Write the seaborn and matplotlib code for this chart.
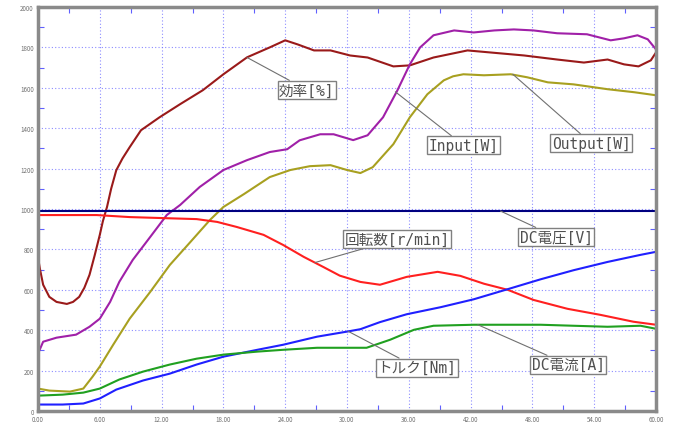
import numpy as np
import pandas as pd
import matplotlib
matplotlib.use('Agg')
import matplotlib.pyplot as plt
import seaborn as sns
from matplotlib.ticker import MultipleLocator

# 読み取った値 (x: 時間, y: 各測定値)
eff_x = [0, 0.2, 0.5, 1.1, 1.8, 2.8, 3.4, 4.0, 4.5, 5.0, 5.5, 6.0, 6.3, 6.7, 7.1, 7.6, 8.2, 8.9, 10.0,
         11.8, 13.8, 16.0, 18.0, 20.3, 22.5, 24.0, 25.2, 26.8, 28.4, 30.3, 32.0, 34.5, 36.1, 38.4,
         41.7, 43.9, 47.2, 50.4, 53.0, 55.3, 56.9, 58.3, 59.5, 60.0]
eff_y = [760, 700, 625, 565, 540, 530, 540, 565, 610, 674, 770, 872, 940, 1010, 1100, 1192, 1250, 1306, 1390,
         1454, 1519, 1588, 1667, 1751, 1800, 1835, 1815, 1785, 1785, 1760, 1750, 1706, 1711, 1750,
         1785, 1775, 1760, 1740, 1725, 1740, 1716, 1706, 1736, 1775]

in_x = [0, 0.5, 1.8, 3.7, 5.0, 6.0, 7.0, 7.9, 9.2, 10.9, 12.5, 13.8, 15.7, 18.0, 20.3, 22.5, 24.2,
        25.4, 27.4, 28.7, 30.6, 32.0, 33.5, 34.9, 36.1, 37.1, 38.4, 40.4, 42.3, 44.3, 46.2, 48.1,
        50.4, 53.3, 55.6, 56.9, 58.2, 59.2, 60.0]
in_y = [284, 343, 363, 378, 417, 457, 540, 640, 748, 862, 970, 1020, 1109, 1193, 1242, 1282, 1296,
        1340, 1370, 1370, 1341, 1365, 1454, 1588, 1716, 1800, 1860, 1884, 1874, 1884, 1889, 1884,
        1870, 1865, 1835, 1845, 1860, 1840, 1790]

out_x = [0, 1.1, 3.1, 4.4, 5.3, 6.0, 7.3, 8.9, 10.9, 12.8, 14.8, 16.7, 18.0, 20.0, 22.5, 24.5,
         26.4, 28.4, 30.0, 31.3, 32.5, 34.5, 36.1, 37.8, 39.4, 40.3, 41.3, 43.3, 45.9, 47.5, 49.5,
         52.0, 55.3, 57.9, 60.0]
out_y = [111, 101, 96, 111, 170, 220, 328, 457, 590, 723, 837, 946, 1010, 1074, 1158, 1193,
         1212, 1217, 1193, 1178, 1207, 1321, 1454, 1568, 1637, 1657, 1667, 1662, 1667, 1652, 1627,
         1617, 1593, 1578, 1563]

rpm_x = [0, 5.7, 8.9, 12.1, 15.4, 17.4, 19.3, 21.9, 23.8, 25.8, 27.7, 29.3, 31.3, 33.2, 35.8, 38.8,
         41.0, 43.3, 45.6, 48.1, 51.4, 54.6, 57.8, 60.0]
rpm_y = [970, 970, 960, 955, 950, 936, 911, 872, 822, 763, 713, 670, 639, 625, 664, 689,
         669, 630, 600, 550, 506, 476, 442, 427]

volt_x = [0, 60]
volt_y = [990, 990]

trq_x = [0, 2.4, 4.4, 6.0, 7.6, 10.2, 12.8, 15.4, 18.0, 21.3, 23.8, 27.1, 30.0, 31.3, 33.2, 35.8,
         39.1, 42.3, 45.6, 48.8, 52.0, 55.3, 58.5, 60.0]
trq_y = [32, 32, 37, 62, 106, 151, 185, 230, 269, 303, 328, 368, 393, 405, 440, 479,
         514, 553, 603, 652, 697, 738, 773, 788]

cur_x = [0, 2.4, 4.4, 6.0, 7.9, 10.2, 12.8, 15.4, 18.0, 21.3, 23.8, 27.1, 30.0, 31.9, 34.2, 36.5,
         38.4, 42.3, 45.6, 48.8, 52.0, 55.3, 58.5, 60.0]
cur_y = [76, 81, 91, 111, 156, 195, 230, 259, 279, 294, 303, 313, 313, 313, 353, 402,
         422, 427, 427, 427, 422, 417, 422, 407]

x_ticks = [0, 6, 12, 18, 24, 30, 36, 42, 48, 54, 60]
x_labels = ['0.00', '6.00', '12.00', '18.00', '24.00', '30.00', '36.00', '42.00', '48.00', '54.00', '60.00']
y_ticks = [0, 200, 400, 600, 800, 1000, 1200, 1400, 1600, 1800, 2000]

series = {
    '効率[%]': (eff_x, eff_y, '#9a1a1a'),
    'Input[W]': (in_x, in_y, '#a020a8'),
    'Output[W]': (out_x, out_y, '#a8a020'),
    '回転数[r/min]': (rpm_x, rpm_y, '#ff2020'),
    'DC電圧[V]': (volt_x, volt_y, '#000080'),
    'トルク[Nm]': (trq_x, trq_y, '#2020ff'),
    'DC電流[A]': (cur_x, cur_y, '#20a020'),
}

# ラベル位置と引出線の先
labels = {
    '効率[%]': ((26.1, 1590), (20.3, 1750)),
    'Input[W]': ((41.3, 1316), (34.7, 1580)),
    'Output[W]': ((53.7, 1326), (46.1, 1667)),
    'DC電圧[V]': ((50.3, 862), (44.9, 990)),
    '回転数[r/min]': ((34.9, 852), (26.9, 735)),
    'トルク[Nm]': ((36.8, 215), (30.1, 395)),
    'DC電流[A]': ((51.5, 229), (42.7, 427)),
}

rows = []
for name, (xs, ys, _) in series.items():
    for a, b in zip(xs, ys):
        rows.append((name, a, b))
df = pd.DataFrame(rows, columns=['series', 'x', 'y'])
palette = {k: v[2] for k, v in series.items()}

sns.set_style('white')
plt.rcParams['font.family'] = ['Noto Sans CJK JP', 'DejaVu Sans']

fig = plt.figure(figsize=(6.74, 4.27), dpi=100)
ax = fig.add_axes([38 / 674, 1 - 412 / 427, (656 - 38) / 674, (412 - 8) / 427])

sns.lineplot(data=df, x='x', y='y', hue='series', palette=palette, estimator=None,
             sort=False, linewidth=1.5, legend=False, ax=ax, zorder=3)

ax.set_xlim(0, 60)
ax.set_ylim(0, 2000)
ax.set_xticks(x_ticks)
ax.set_xticklabels(x_labels)
ax.set_yticks(y_ticks)
ax.set_yticklabels([str(v) for v in y_ticks])
ax.xaxis.set_minor_locator(MultipleLocator(3))
ax.yaxis.set_minor_locator(MultipleLocator(100))
ax.tick_params(axis='x', which='major', length=0, labelsize=4.5, labelcolor='#707070', pad=3)
ax.tick_params(axis='y', which='major', length=0, labelsize=4.5, labelcolor='#707070', pad=3)
ax.tick_params(which='minor', direction='in', length=4, color='#6060ff', width=0.8,
               top=True, right=True, bottom=True, left=True)
ax.grid(True, which='major', color='#7070ff', linestyle=(0, (1, 2)), linewidth=0.8, alpha=0.8)
ax.set_axisbelow(True)
ax.set_xlabel('')
ax.set_ylabel('')
for s in ax.spines.values():
    s.set_color('#8a8a8a')
    s.set_linewidth(2.5)
    s.set_zorder(5)

for name, (txt_xy, pt_xy) in labels.items():
    ax.annotate(name, xy=pt_xy, xytext=txt_xy, ha='center', va='center', fontsize=10.5,
                family=['DejaVu Sans Mono', 'Noto Sans CJK JP'], color='#505050', zorder=6,
                bbox=dict(boxstyle='square,pad=0.1', fc='white', ec='#808080', lw=1.0),
                arrowprops=dict(arrowstyle='-', color='#707070', lw=0.8, shrinkA=0, shrinkB=0))

fig.savefig('out.png', dpi=100, facecolor='white')
